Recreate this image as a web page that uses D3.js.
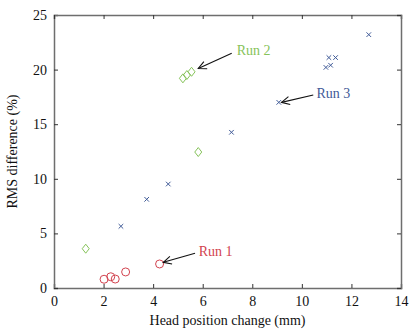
<!DOCTYPE html>
<html>
<head>
<meta charset="utf-8">
<script src="https://cdn.jsdelivr.net/npm/d3@7"></script>
<style>
  body { margin: 0; background: #fff; }
  svg text { font-family: "Liberation Serif", "Times New Roman", Tinos, "DejaVu Serif", serif !important; }
</style>
</head>
<body>
<script>
// Run 1 (red circles)
const run1X = [2.02, 2.29, 2.47, 2.89, 4.26];
const run1Y = [0.8, 1.03, 0.82, 1.47, 2.2];
// Run 2 (green diamonds)
const run2X = [1.28, 5.2, 5.36, 5.55, 5.82];
const run2Y = [3.6, 19.2, 19.5, 19.8, 12.45];
// Run 3 (blue crosses)
const run3X = [2.7, 3.74, 4.61, 7.16, 9.07, 10.97, 11.16, 11.09, 11.36, 12.7];
const run3Y = [5.65, 8.12, 9.52, 14.26, 17.0, 20.2, 20.4, 21.1, 21.1, 23.2];

const xTicks = [0, 2, 4, 6, 8, 10, 12, 14];
const yTicks = [0, 5, 10, 15, 20, 25];

// annotations: label position and arrow (data units)
const labels = ["Run 1", "Run 2", "Run 3"];
const labelX = [5.84, 7.37, 10.59];
const labelY = [2.93, 21.34, 17.37];
const arrowFromX = [5.69, 7.17, 10.46];
const arrowFromY = [3.18, 21.5, 17.67];
const arrowToX = [4.41, 5.82, 9.18];
const arrowToY = [2.35, 20.1, 17.0];

const red = "#d2434f", green = "#86c35a", blue = "#3f5a97";
const colors = [red, green, blue];

const W = 416, H = 333;
const margin = { top: 15, right: 15, bottom: 45, left: 54 };
const width = W - margin.left - margin.right;
const height = H - margin.top - margin.bottom;

const svg0 = d3.select("body").append("svg")
  .attr("width", W).attr("height", H);

svg0.append("defs").append("marker")
  .attr("id", "head")
  .attr("viewBox", "-10 -6 12 12")
  .attr("refX", 0).attr("refY", 0)
  .attr("markerWidth", 12).attr("markerHeight", 12)
  .attr("markerUnits", "userSpaceOnUse")
  .attr("orient", "auto")
  .append("path")
  .attr("d", "M-8,-4 L0,0 L-8,4")
  .attr("fill", "none")
  .attr("stroke", "#111")
  .attr("stroke-width", 1.1);

const svg = svg0.append("g")
  .attr("transform", "translate(" + margin.left + "," + margin.top + ")");

const x = d3.scaleLinear().domain([0, 14]).range([0, width]);
const y = d3.scaleLinear().domain([0, 25]).range([height, 0]);

const axisColor = "#6e6e6e";

// axes with inward ticks, mirrored on top/right
const axBottom = svg.append("g")
  .attr("transform", "translate(0," + height + ")")
  .call(d3.axisBottom(x).tickValues(xTicks).tickSize(-4).tickPadding(8));
const axLeft = svg.append("g")
  .call(d3.axisLeft(y).tickValues(yTicks).tickSize(-4).tickPadding(7));
const axTop = svg.append("g")
  .call(d3.axisTop(x).tickValues(xTicks).tickSize(-4).tickFormat(""));
const axRight = svg.append("g")
  .attr("transform", "translate(" + width + ",0)")
  .call(d3.axisRight(y).tickValues(yTicks).tickSize(-4).tickFormat(""));

[axBottom, axLeft, axTop, axRight].forEach(g => {
  g.attr("font-family", null).attr("font-size", null);
  g.select(".domain").attr("stroke", axisColor).attr("stroke-width", 1.5);
  g.selectAll(".tick line").attr("stroke", "#333");
  g.selectAll(".tick text")
    .attr("fill", "#111")
    .style("font-size", "14px");
});

// axis titles
svg.append("text")
  .attr("x", width / 2).attr("y", height + 37)
  .attr("text-anchor", "middle")
  .attr("fill", "#111")
  .style("font-size", "14px")
  .text("Head position change (mm)");

svg.append("text")
  .attr("transform", "translate(" + (-37) + "," + (height / 2) + ") rotate(-90)")
  .attr("text-anchor", "middle")
  .attr("fill", "#111")
  .style("font-size", "14px")
  .text("RMS difference (%)");

// Run 1 circles
svg.selectAll(".r1").data(run1X).enter().append("circle")
  .attr("class", "r1")
  .attr("cx", d => x(d))
  .attr("cy", (d, i) => y(run1Y[i]))
  .attr("r", 4)
  .attr("fill", "none")
  .attr("stroke", red)
  .attr("stroke-width", 1);

// Run 2 diamonds
svg.selectAll(".r2").data(run2X).enter().append("path")
  .attr("class", "r2")
  .attr("transform", (d, i) => "translate(" + x(d) + "," + y(run2Y[i]) + ")")
  .attr("d", "M0,-4.5 L3.5,0 L0,4.5 L-3.5,0 Z")
  .attr("fill", "none")
  .attr("stroke", green)
  .attr("stroke-width", 1);

// Run 3 crosses
svg.selectAll(".r3").data(run3X).enter().append("path")
  .attr("class", "r3")
  .attr("transform", (d, i) => "translate(" + x(d) + "," + y(run3Y[i]) + ")")
  .attr("d", "M-2.3,-2.3 L2.3,2.3 M-2.3,2.3 L2.3,-2.3")
  .attr("stroke", blue)
  .attr("stroke-width", 1);

// annotations
labels.forEach((lab, i) => {
  svg.append("line")
    .attr("x1", x(arrowFromX[i])).attr("y1", y(arrowFromY[i]))
    .attr("x2", x(arrowToX[i])).attr("y2", y(arrowToY[i]))
    .attr("stroke", "#111")
    .attr("stroke-width", 1.1)
    .attr("marker-end", "url(#head)");
  svg.append("text")
    .attr("x", x(labelX[i])).attr("y", y(labelY[i]))
    .attr("fill", colors[i])
    .style("font-size", "14px")
    .text(lab);
});
</script>
</body>
</html>
